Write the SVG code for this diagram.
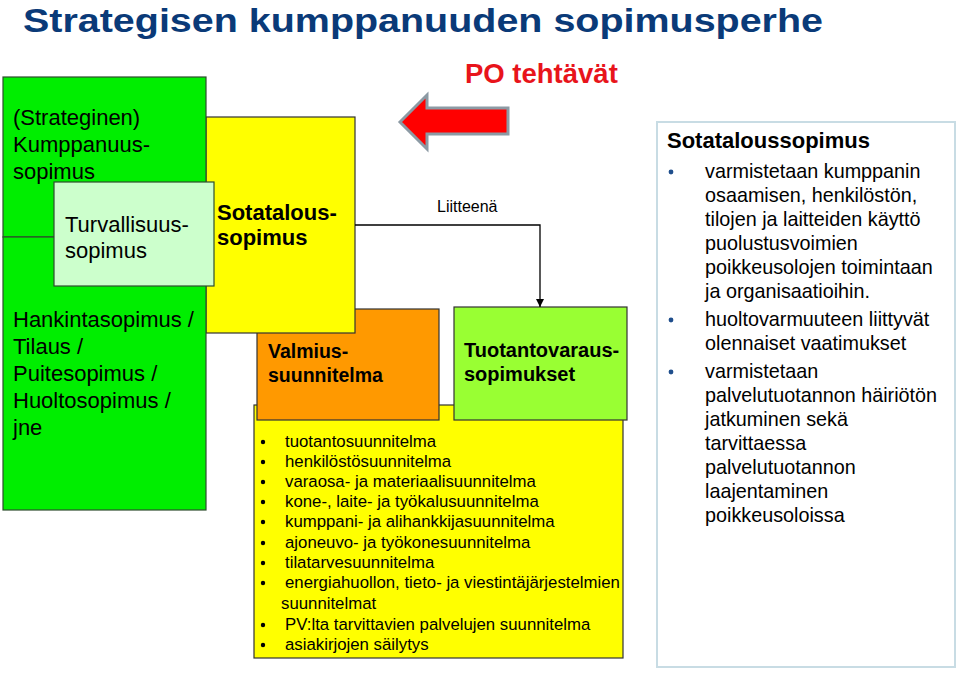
<svg xmlns="http://www.w3.org/2000/svg" width="960" height="673" viewBox="0 0 960 673">
<style>
text{font-family:"Liberation Sans",Arial,sans-serif;fill:#000}
.b{font-weight:bold}
.box{stroke:#333;stroke-width:1.2}
.g22{font-size:22px}
.li{font-size:16.8px}
.rp{font-size:19.8px;fill:#111}
.bul{fill:#1f4e8c}
</style>
<defs>
<marker id="ah" markerWidth="10" markerHeight="10" refX="8" refY="4" orient="auto" markerUnits="userSpaceOnUse">
<path d="M0,0 L8,4 L0,8 Z" fill="#000"/>
</marker>
</defs>
<rect width="960" height="673" fill="#fff"/>
<text x="23" y="32" class="b" font-size="34" style="fill:#0a3a78" textLength="800" lengthAdjust="spacingAndGlyphs">Strategisen kumppanuuden sopimusperhe</text>
<text x="465" y="83" class="b" font-size="27.5" style="fill:#e8141b">PO tehtävät</text>

<g id="red-arrow">
<polygon points="400,122 427,95 427,108 508,108 508,134 427,134 427,149" fill="#ff0000" stroke="#8c9aa4" stroke-width="3" stroke-linejoin="miter"/>
</g>

<g id="list-box">
<rect x="254" y="405" width="369" height="253" fill="#ffff00" class="box"/>
<g class="li">
<text x="285" y="447">tuotantosuunnitelma</text>
<text x="285" y="467">henkilöstösuunnitelma</text>
<text x="285" y="487">varaosa- ja materiaalisuunnitelma</text>
<text x="285" y="507">kone-, laite- ja työkalusuunnitelma</text>
<text x="285" y="527">kumppani- ja alihankkijasuunnitelma</text>
<text x="285" y="548">ajoneuvo- ja työkonesuunnitelma</text>
<text x="285" y="568">tilatarvesuunnitelma</text>
<text x="285" y="588">energiahuollon, tieto- ja viestintäjärjestelmien</text>
<text x="281" y="609">suunnitelmat</text>
<text x="285" y="630">PV:lta tarvittavien palvelujen suunnitelma</text>
<text x="285" y="650">asiakirjojen säilytys</text>
</g>
<g fill="#000">
<circle cx="263" cy="442" r="2.2"/><circle cx="263" cy="462" r="2.2"/><circle cx="263" cy="482" r="2.2"/>
<circle cx="263" cy="502" r="2.2"/><circle cx="263" cy="522" r="2.2"/><circle cx="263" cy="543" r="2.2"/>
<circle cx="263" cy="563" r="2.2"/><circle cx="263" cy="583" r="2.2"/><circle cx="263" cy="625" r="2.2"/>
<circle cx="263" cy="645" r="2.2"/>
</g>
</g>

<g id="valmius">
<rect x="257" y="309" width="182" height="111" fill="#ff9900" class="box"/>
<text x="268" y="358" class="b" font-size="19.5">Valmius-</text>
<text x="268" y="382" class="b" font-size="19.5">suunnitelma</text>
</g>

<g id="tuotantovaraus">
<rect x="454" y="307" width="173" height="113" fill="#99ff33" class="box"/>
<text x="464" y="357" class="b" font-size="20">Tuotantovaraus-</text>
<text x="464" y="381" class="b" font-size="20">sopimukset</text>
</g>

<g id="sotatalous">
<rect x="206" y="117" width="149" height="216" fill="#ffff00" class="box"/>
<text x="217" y="220" class="b g22">Sotatalous-</text>
<text x="217" y="245" class="b g22">sopimus</text>
</g>

<g id="kumppanuus">
<rect x="3" y="77" width="203" height="160" fill="#00ee00" stroke="#2d4d2d" stroke-width="1.2"/>
<text x="13" y="125" class="g22">(Strateginen)</text>
<text x="13" y="152" class="g22">Kumppanuus-</text>
<text x="13" y="179" class="g22">sopimus</text>
</g>

<g id="hankinta">
<rect x="3" y="237" width="203" height="273" fill="#00ee00" stroke="#2d4d2d" stroke-width="1.2"/>
<text x="13" y="327" class="g22">Hankintasopimus /</text>
<text x="13" y="354" class="g22">Tilaus /</text>
<text x="13" y="381" class="g22">Puitesopimus /</text>
<text x="13" y="408" class="g22">Huoltosopimus /</text>
<text x="13" y="435" class="g22">jne</text>
</g>

<g id="turvallisuus">
<rect x="54" y="182" width="160" height="104" fill="#ccffcc" stroke="#2d4d2d" stroke-width="1.2"/>
<text x="65" y="232" class="g22">Turvallisuus-</text>
<text x="65" y="258" class="g22">sopimus</text>
</g>

<g id="connectors">
<path d="M355,225 H540 V307" fill="none" stroke="#000" stroke-width="1.3" marker-end="url(#ah)"/>
<text x="437" y="212" font-size="16">Liitteenä</text>
</g>

<g id="sotataloussopimus-panel">
<rect x="657" y="122" width="298" height="545" fill="#fff" stroke="#c8dce4" stroke-width="2"/>
<text x="667" y="148" class="b" font-size="22">Sotataloussopimus</text>
<g class="rp">
<text x="705" y="178">varmistetaan kumppanin</text>
<text x="705" y="202">osaamisen, henkilöstön,</text>
<text x="705" y="226">tilojen ja laitteiden käyttö</text>
<text x="705" y="250">puolustusvoimien</text>
<text x="705" y="274">poikkeusolojen toimintaan</text>
<text x="705" y="298">ja organisaatioihin.</text>
<text x="705" y="326">huoltovarmuuteen liittyvät</text>
<text x="705" y="350">olennaiset vaatimukset</text>
<text x="705" y="378">varmistetaan</text>
<text x="705" y="402">palvelutuotannon häiriötön</text>
<text x="705" y="426">jatkuminen sekä</text>
<text x="705" y="450">tarvittaessa</text>
<text x="705" y="474">palvelutuotannon</text>
<text x="705" y="498">laajentaminen</text>
<text x="705" y="522">poikkeusoloissa</text>
</g>
<circle cx="671" cy="172" r="2.4" class="bul"/>
<circle cx="671" cy="320" r="2.4" class="bul"/>
<circle cx="671" cy="372" r="2.4" class="bul"/>
</g>
</svg>
